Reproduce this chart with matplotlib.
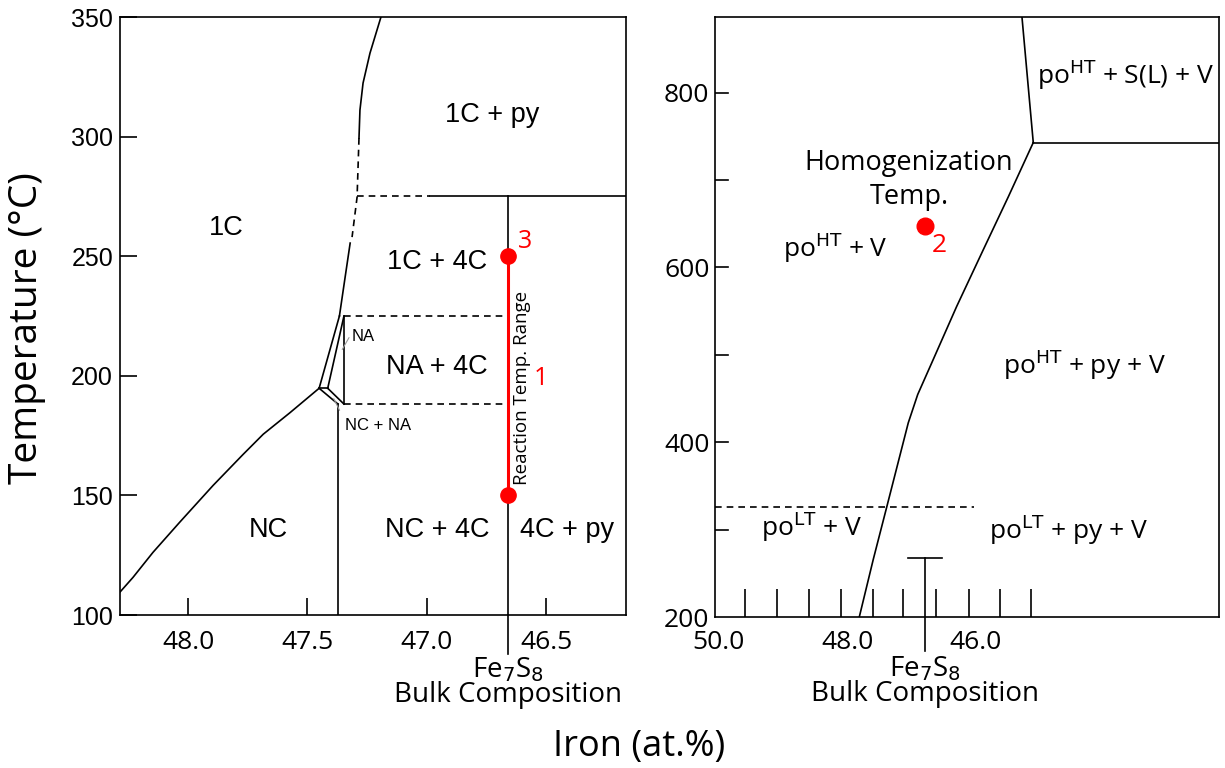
import matplotlib
matplotlib.use("Agg")
import matplotlib.pyplot as plt

# ---------------- data (left panel: low-temperature pyrrhotite) ----------------
L_xlim = (48.285, 46.165)
L_ylim = (100, 350)
L_ticks_x = [48.0, 47.5, 47.0, 46.5]
L_ticks_y = [100, 150, 200, 250, 300, 350]

# NC / 1C boundary
nc1c_x = [48.287, 48.231, 48.147, 48.035, 47.895, 47.769, 47.685, 47.573, 47.451]
nc1c_y = [109.4, 115.7, 126.2, 138.8, 154.2, 167.2, 175.6, 184.6, 194.8]
# 1C / 1C+4C / 1C+py boundary (upper curve), split in solid / dashed / solid
up1_x = [47.192, 47.238, 47.267, 47.280, 47.284]
up1_y = [350, 334.9, 322.4, 311.1, 299.4]
up2_x = [47.284, 47.292, 47.313]
up2_y = [299.4, 274.7, 258.0]
up3_x = [47.321, 47.342, 47.366]
up3_y = [255.5, 241.3, 225.0]
# NA box
na_outer_x = [47.451, 47.366]
na_outer_y = [194.8, 225.0]
na_inner_x = [47.415, 47.347]
na_inner_y = [194.8, 225.0]
na_right_x = [47.347, 47.347]
na_right_y = [225.0, 188.2]
nc_na_a_x = [47.451, 47.372]
nc_na_a_y = [194.8, 188.2]
nc_na_b_x = [47.415, 47.347]
nc_na_b_y = [194.8, 188.2]
trip_x = [47.451, 47.415]
trip_y = [194.8, 194.8]
low_vert_x = [47.372, 47.372]
low_vert_y = [188.2, 100]
# horizontal boundaries
h275_dash_x = [47.292, 46.985]
h275_solid_x = [46.985, 46.165]
h275_y = 275
h225_x = [47.347, 46.66]
h225_y = 225
h188_x = [47.347, 46.66]
h188_y = 188.2
fe7s8_left = 46.66
fe7s8_top = 275
react_T = [150, 250]

# ---------------- data (right panel: high-temperature) ----------------
R_xlim = (50.06, 42.21)
R_ylim = (200, 886.5)
R_label_x = [50.0, 48.0, 46.0]
R_minor_x = [49.6, 49.1, 48.6, 48.1, 47.6, 47.13, 46.62, 46.11, 45.62, 45.14]
R_ticks_y = [200, 400, 600, 800]
R_minor_y = [300, 500, 700]
curve_x = [47.813, 47.595, 47.386, 47.05, 46.903, 46.685, 46.296, 45.882, 45.49, 45.103]
curve_y = [200, 266, 325.7, 422.2, 454.6, 490.7, 555.4, 620.2, 681.1, 742.9]
top_x = [45.103, 45.279]
top_y = [742.9, 886.5]
h743_x = [45.103, 42.21]
h743_y = 742.9
lt_dash_x = [50.06, 46.03]
lt_dash_y = 325.7
fe7s8_right = 46.79
fe7s8_cap_T = 268
fe7s8_cap_w = 0.27
homog_T = 647.7

blk = "black"
red = "#ff0000"
lw = 1.2
ff = ["Open Sans", "DejaVu Sans"]
fh = ["Liberation Sans", "DejaVu Sans"]
dash = (0, (4, 3))

fig = plt.figure(figsize=(12.25, 7.68), dpi=100)
axL = fig.add_axes([0.098, 0.1992, 0.4131, 0.7786])
axR = fig.add_axes([0.5837, 0.1966, 0.4114, 0.7812])

# ---------------- left panel ----------------
axL.set_xlim(*L_xlim)
axL.set_ylim(*L_ylim)
axL.set_xticks(L_ticks_x)
axL.set_xticklabels([f"{v:.1f}" for v in L_ticks_x], family=ff, fontsize=19)
axL.set_yticks(L_ticks_y)
axL.set_yticklabels([str(v) for v in L_ticks_y], family=fh, fontsize=18)
axL.tick_params(axis="both", direction="in", length=12, width=lw, pad=5)
axL.tick_params(axis="x", pad=11)
for s in axL.spines.values():
    s.set_linewidth(lw)

axL.plot(nc1c_x, nc1c_y, color=blk, lw=lw)
axL.plot(up1_x, up1_y, color=blk, lw=lw)
axL.plot(up2_x, up2_y, color=blk, lw=lw, ls=dash)
axL.plot(up3_x, up3_y, color=blk, lw=lw)
for xs, ys in [(na_outer_x, na_outer_y), (na_inner_x, na_inner_y), (na_right_x, na_right_y),
               (nc_na_a_x, nc_na_a_y), (nc_na_b_x, nc_na_b_y), (trip_x, trip_y),
               (low_vert_x, low_vert_y)]:
    axL.plot(xs, ys, color=blk, lw=lw)
axL.plot(h275_dash_x, [h275_y] * 2, color=blk, lw=lw, ls=dash)
axL.plot(h275_solid_x, [h275_y] * 2, color=blk, lw=lw)
axL.plot(h225_x, [h225_y] * 2, color=blk, lw=lw, ls=dash)
axL.plot(h188_x, [h188_y] * 2, color=blk, lw=lw, ls=dash)
axL.plot([fe7s8_left, fe7s8_left], [L_ylim[0], fe7s8_top], color=blk, lw=lw)
axL.plot([fe7s8_left, fe7s8_left], [L_ylim[0], 83.7], color=blk, lw=lw, clip_on=False)
axL.plot([fe7s8_left] * 2, react_T, color=red, lw=2.2)
axL.plot([fe7s8_left] * 2, react_T, "o", color=red, ms=11)
axL.text(46.59, 256, "3", color=red, fontsize=18, family=ff, ha="center", va="center")
axL.text(46.52, 199, "1", color=red, fontsize=18, family=ff, ha="center", va="center")
axL.text(46.603, 195, "Reaction Temp. Range", rotation=90, fontsize=13.5, family=ff,
         ha="center", va="center")

for txt, x, y in [("1C", 47.841, 261.8), ("1C + py", 46.727, 309), ("1C + 4C", 46.957, 247.6),
                  ("NA + 4C", 46.957, 203.7), ("NC", 47.665, 135.5), ("NC + 4C", 46.957, 135.5),
                  ("4C + py", 46.412, 135.5)]:
    axL.text(x, y, txt, fontsize=19.5, family=fh, ha="center", va="center")
axL.text(47.315, 216.3, "NA", fontsize=12, family=fh, ha="left", va="center")
axL.annotate("", xy=(47.36, 210), xytext=(47.32, 217),
             arrowprops=dict(arrowstyle="-", color="#999999", lw=0.8))
axL.text(47.342, 179.4, "NC + NA", fontsize=12, family=fh, ha="left", va="center")
axL.annotate("", xy=(47.395, 191.5), xytext=(47.36, 184.5),
             arrowprops=dict(arrowstyle="-", color="#999999", lw=0.8))
axL.text(fe7s8_left, 83.3, "Fe$_7$S$_8$\nBulk Composition", fontsize=20, family=ff,
         ha="center", va="top", linespacing=0.85, clip_on=False)

# ---------------- right panel ----------------
axR.set_xlim(*R_xlim)
axR.set_ylim(*R_ylim)
axR.set_xticks(R_label_x)
axR.set_xticklabels([f"{v:.1f}" for v in R_label_x], family=ff, fontsize=19)
axR.set_xticks(R_minor_x, minor=True)
axR.tick_params(axis="x", which="major", length=0, pad=9)
axR.tick_params(axis="x", which="minor", direction="in", length=20, width=lw)
axR.set_yticks(R_ticks_y)
axR.set_yticklabels([str(v) for v in R_ticks_y], family=ff, fontsize=19)
axR.set_yticks(R_minor_y, minor=True)
axR.tick_params(axis="y", which="both", direction="out", length=0, pad=4)
for yv in R_ticks_y[1:] + R_minor_y:
    axR.plot([R_xlim[0], R_xlim[0] - 0.2], [yv, yv], color=blk, lw=lw)
for s in axR.spines.values():
    s.set_linewidth(lw)

axR.plot(curve_x, curve_y, color=blk, lw=lw)
axR.plot(top_x, top_y, color=blk, lw=lw)
axR.plot(h743_x, [h743_y] * 2, color=blk, lw=lw)
axR.plot(lt_dash_x, [lt_dash_y] * 2, color=blk, lw=lw, ls=dash)
axR.plot([fe7s8_right] * 2, [160.8, fe7s8_cap_T], color=blk, lw=lw, clip_on=False)
axR.plot([fe7s8_right - fe7s8_cap_w, fe7s8_right + fe7s8_cap_w], [fe7s8_cap_T] * 2,
         color=blk, lw=lw)
axR.plot([fe7s8_right], [homog_T], "o", color=red, ms=12)
axR.text(46.56, 624.8, "2", color=red, fontsize=19, family=ff, ha="center", va="center")
axR.text(47.04, 700, "Homogenization\nTemp.", fontsize=19.5, family=ff, ha="center",
         va="center", linespacing=1.25)
for txt, x, y in [("po$^{\\mathrm{HT}}$ + S(L) + V", 43.67, 820), ("po$^{\\mathrm{HT}}$ + V", 48.19, 622.5),
                  ("po$^{\\mathrm{HT}}$ + py + V", 44.30, 488.9), ("po$^{\\mathrm{LT}}$ + V", 48.55, 303.7),
                  ("po$^{\\mathrm{LT}}$ + py + V", 44.56, 300)]:
    axR.text(x, y, txt, fontsize=19, family=ff, ha="center", va="center")
axR.text(fe7s8_right, 157, "Fe$_7$S$_8$\nBulk Composition", fontsize=20, family=ff,
         ha="center", va="top", linespacing=0.85, clip_on=False)

fig.text(0.022, 0.573, "Temperature (°C)", rotation=90, fontsize=28, family=ff,
         ha="center", va="center")
fig.text(0.522, 0.027, "Iron (at.%)", fontsize=26, family=ff, ha="center", va="center")

fig.savefig("out.png", dpi=100)
